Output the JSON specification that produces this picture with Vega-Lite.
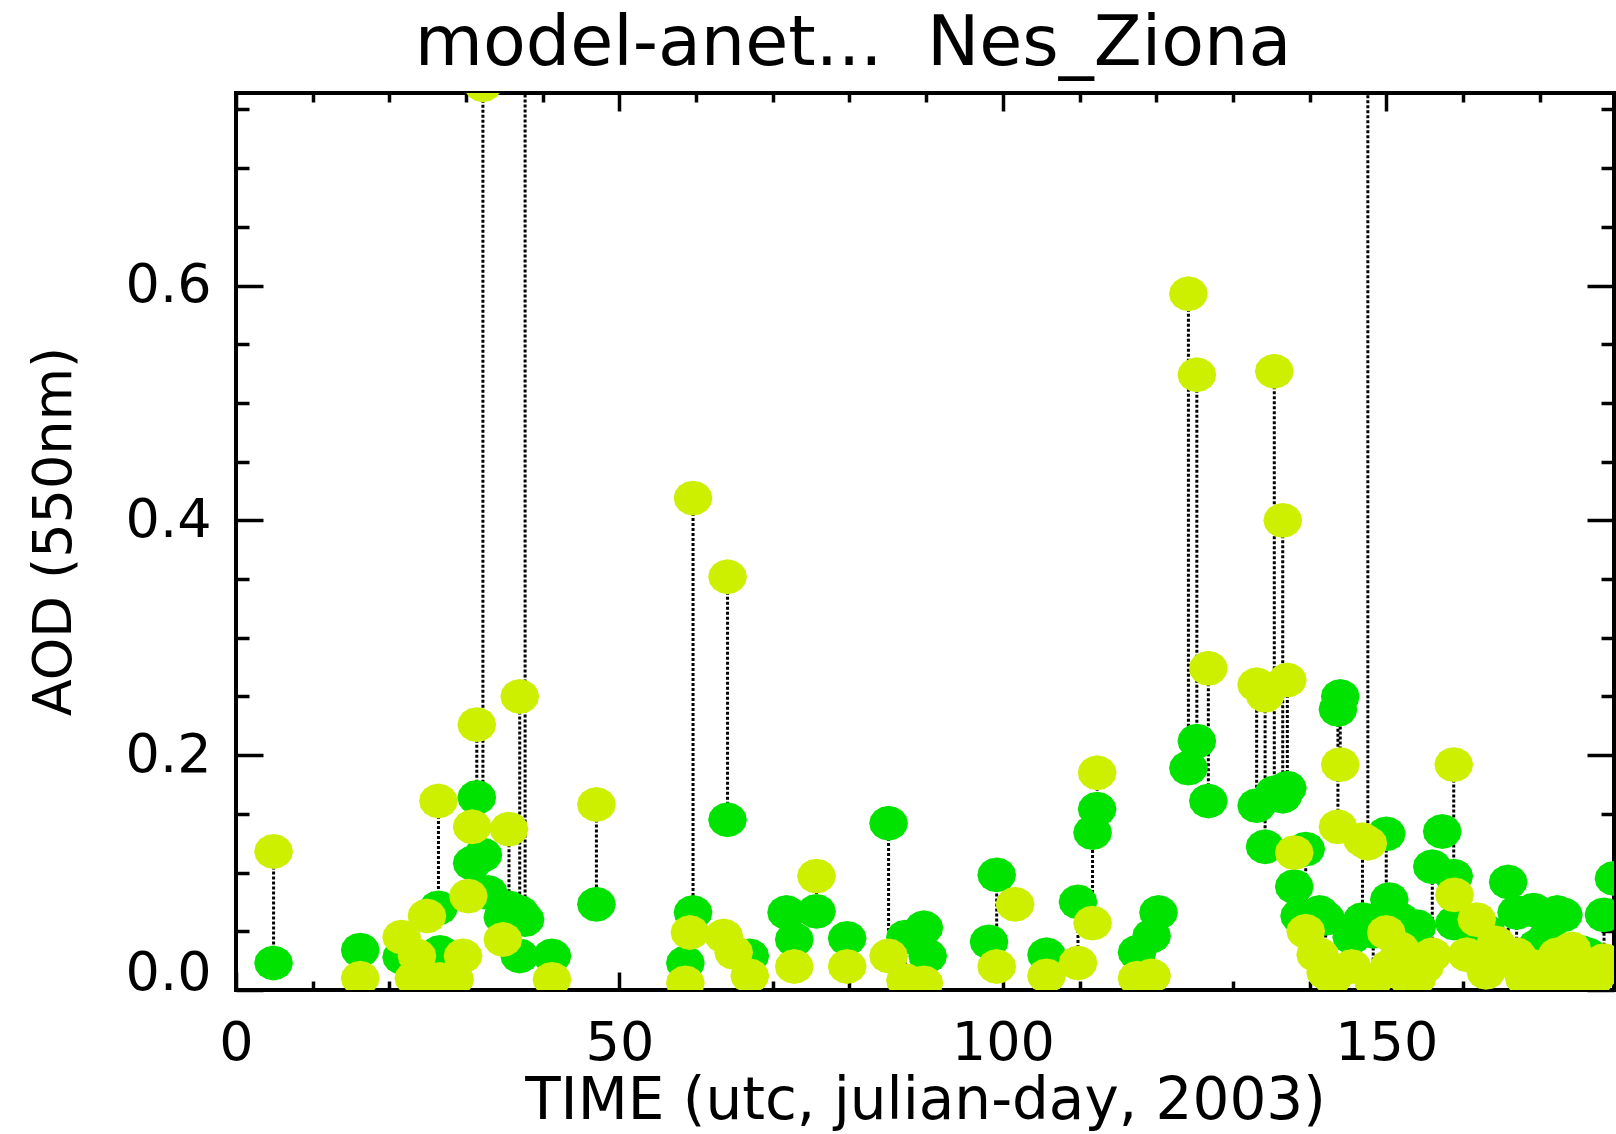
{
  "$schema": "https://vega.github.io/schema/vega-lite/v6.json",
  "width": 1378,
  "height": 897,
  "autosize": {"type": "none"},
  "padding": {"left": 236, "top": 93, "right": 2, "bottom": 144},
  "background": "white",
  "title": {
    "text": "model-anet...\u00a0 Nes_Ziona",
    "font": "DejaVu Sans",
    "fontSize": 70,
    "fontWeight": "normal",
    "color": "black",
    "anchor": "middle",
    "dx": -72,
    "dy": 70,
    "offset": 26,
    "baseline": "alphabetic"
  },
  "config": {
    "view": {"stroke": "black", "strokeWidth": 4},
    "axis": {
      "grid": false,
      "domain": false,
      "labelFont": "DejaVu Sans",
      "labelFontSize": 54,
      "labelColor": "black",
      "titleFont": "DejaVu Sans",
      "titleFontWeight": "normal",
      "titleColor": "black",
      "tickColor": "black",
      "tickWidth": 3.5
    }
  },
  "data": {
    "values": [
      {"d": 4.9, "model": 0.118, "anet": 0.023},
      {"d": 16.2, "model": 0.010, "anet": 0.034},
      {"d": 21.6, "model": 0.045, "anet": 0.028},
      {"d": 23.2, "model": 0.010, "anet": null},
      {"d": 23.6, "model": 0.029, "anet": null},
      {"d": 24.9, "model": 0.063, "anet": null},
      {"d": 26.4, "model": 0.161, "anet": 0.070},
      {"d": 26.6, "model": 0.009, "anet": 0.032},
      {"d": 28.5, "model": 0.009, "anet": null},
      {"d": 29.6, "model": 0.029, "anet": null},
      {"d": 30.3, "model": 0.080, "anet": null},
      {"d": 30.8, "model": 0.139, "anet": 0.108},
      {"d": 31.4, "model": 0.226, "anet": 0.164},
      {"d": 32.2, "model": 0.771, "anet": 0.115},
      {"d": 32.9, "model": null, "anet": 0.083},
      {"d": 34.8, "model": 0.043, "anet": 0.062},
      {"d": 35.6, "model": 0.137, "anet": 0.070},
      {"d": 37.0, "model": 0.250, "anet": 0.066},
      {"d": 37.7, "model": 0.950, "anet": 0.060},
      {"d": 37.0, "model": null, "anet": 0.029},
      {"d": 41.2, "model": 0.009, "anet": 0.029},
      {"d": 47.0, "model": 0.158, "anet": 0.073},
      {"d": 58.6, "model": 0.006, "anet": 0.023},
      {"d": 59.2, "model": 0.049, "anet": null},
      {"d": 59.6, "model": 0.419, "anet": 0.066},
      {"d": 63.6, "model": 0.046, "anet": null},
      {"d": 64.1, "model": 0.352, "anet": 0.145},
      {"d": 64.9, "model": 0.032, "anet": null},
      {"d": 67.0, "model": 0.012, "anet": 0.029},
      {"d": 71.8, "model": null, "anet": 0.066},
      {"d": 72.8, "model": 0.020, "anet": 0.043},
      {"d": 75.7, "model": 0.097, "anet": 0.067},
      {"d": 79.7, "model": 0.020, "anet": 0.044},
      {"d": 85.1, "model": 0.029, "anet": 0.142},
      {"d": 87.3, "model": 0.008, "anet": 0.045},
      {"d": 89.7, "model": 0.006, "anet": 0.053},
      {"d": 90.2, "model": null, "anet": 0.029},
      {"d": 98.2, "model": null, "anet": 0.041},
      {"d": 99.2, "model": 0.020, "anet": 0.098},
      {"d": 101.6, "model": 0.073, "anet": null},
      {"d": 105.7, "model": 0.012, "anet": 0.030},
      {"d": 109.8, "model": 0.023, "anet": 0.075},
      {"d": 111.7, "model": 0.057, "anet": 0.134},
      {"d": 112.3, "model": 0.185, "anet": 0.154},
      {"d": 117.5, "model": 0.010, "anet": 0.032},
      {"d": 119.4, "model": 0.012, "anet": 0.046},
      {"d": 120.3, "model": null, "anet": 0.066},
      {"d": 124.2, "model": 0.593, "anet": 0.189},
      {"d": 125.3, "model": 0.524, "anet": 0.212},
      {"d": 126.8, "model": 0.274, "anet": 0.161},
      {"d": 133.1, "model": 0.260, "anet": 0.157},
      {"d": 134.2, "model": 0.251, "anet": 0.122},
      {"d": 135.4, "model": 0.527, "anet": 0.168},
      {"d": 136.5, "model": 0.400, "anet": 0.165},
      {"d": 137.1, "model": 0.264, "anet": 0.172},
      {"d": 138.0, "model": 0.117, "anet": 0.088},
      {"d": 138.7, "model": null, "anet": 0.063},
      {"d": 139.5, "model": 0.050, "anet": 0.120},
      {"d": 140.8, "model": 0.030, "anet": null},
      {"d": 141.3, "model": 0.030, "anet": 0.066},
      {"d": 142.1, "model": 0.015, "anet": 0.061},
      {"d": 143.0, "model": 0.010, "anet": null},
      {"d": 143.7, "model": 0.139, "anet": 0.239},
      {"d": 144.0, "model": 0.192, "anet": 0.250},
      {"d": 145.5, "model": 0.020, "anet": 0.045},
      {"d": 146.9, "model": 0.128, "anet": 0.060},
      {"d": 147.6, "model": 0.125, "anet": 0.950},
      {"d": 148.3, "model": 0.008, "anet": 0.050},
      {"d": 150.0, "model": 0.049, "anet": 0.133},
      {"d": 150.4, "model": 0.020, "anet": 0.077},
      {"d": 151.8, "model": 0.035, "anet": 0.060},
      {"d": 152.8, "model": 0.010, "anet": null},
      {"d": 153.8, "model": null, "anet": 0.032},
      {"d": 154.0, "model": 0.010, "anet": 0.054},
      {"d": 155.0, "model": 0.020, "anet": null},
      {"d": 156.0, "model": 0.030, "anet": 0.105},
      {"d": 157.3, "model": null, "anet": 0.135},
      {"d": 158.8, "model": 0.192, "anet": 0.097},
      {"d": 158.9, "model": 0.081, "anet": 0.057},
      {"d": 160.5, "model": 0.030, "anet": null},
      {"d": 161.8, "model": 0.060, "anet": 0.040},
      {"d": 163.0, "model": 0.015, "anet": 0.050},
      {"d": 164.3, "model": 0.040, "anet": null},
      {"d": 165.9, "model": 0.025, "anet": 0.092},
      {"d": 167.0, "model": 0.030, "anet": 0.066},
      {"d": 168.0, "model": 0.010, "anet": null},
      {"d": 169.2, "model": 0.020, "anet": 0.068},
      {"d": 169.6, "model": 0.015, "anet": 0.037},
      {"d": 171.0, "model": 0.005, "anet": 0.045},
      {"d": 172.3, "model": 0.030, "anet": 0.066},
      {"d": 173.1, "model": 0.010, "anet": 0.064},
      {"d": 174.2, "model": 0.035, "anet": null},
      {"d": 175.3, "model": 0.020, "anet": 0.032},
      {"d": 176.3, "model": 0.010, "anet": 0.030},
      {"d": 177.2, "model": 0.010, "anet": null},
      {"d": 178.4, "model": 0.025, "anet": 0.064},
      {"d": 179.7, "model": 0.020, "anet": 0.095}
    ]
  },
  "layer": [
    {
      "transform": [{"filter": "isValid(datum.model) && isValid(datum.anet)"}],
      "mark": {"type": "rule", "color": "black", "strokeWidth": 3, "strokeDash": [3, 2], "clip": true},
      "encoding": {
        "x": {
          "field": "d", "type": "quantitative",
          "scale": {"domain": [0, 179.7], "nice": false, "zero": false},
          "axis": {
            "orient": "bottom", "values": [0, 50, 100, 150], "format": "d",
            "ticks": false, "tickSize": 0, "labelPadding": 69, "labelBaseline": "alphabetic",
            "labelFlush": false,
            "title": "TIME (utc, julian-day, 2003)", "titleFontSize": 58,
            "titleY": 128, "titleBaseline": "alphabetic"
          }
        },
        "y": {
          "field": "model", "type": "quantitative",
          "scale": {"domain": [0, 0.764], "nice": false, "zero": false},
          "axis": {
            "orient": "left", "values": [0, 0.2, 0.4, 0.6], "format": ".1f",
            "ticks": false, "tickSize": 0, "labelPadding": 25, "labelFlush": true, "labelFlushOffset": 10,
            "title": "AOD (550nm)", "titleFontSize": 54, "titleAngle": -90,
            "titleX": -166, "titleY": 438, "titleBaseline": "alphabetic"
          }
        },
        "y2": {"field": "anet"}
      }
    },
    {
      "mark": {
        "type": "point", "filled": true, "opacity": 1, "strokeWidth": 0, "clip": true,
        "color": "#00e300", "size": 1500,
        "shape": "M1,0L0.924,0.345L0.707,0.636L0.383,0.831L0,0.9L-0.383,0.831L-0.707,0.636L-0.924,0.345L-1,0L-0.924,-0.345L-0.707,-0.636L-0.383,-0.831L0,-0.9L0.383,-0.831L0.707,-0.636L0.924,-0.345Z"
      },
      "encoding": {
        "x": {
          "field": "d", "type": "quantitative",
          "axis": {"orient": "bottom", "values": [0, 50, 100, 150], "labels": false, "tickSize": -18, "title": null}
        },
        "y": {
          "field": "anet", "type": "quantitative",
          "axis": {"orient": "left", "values": [0, 0.2, 0.4, 0.6], "labels": false, "tickSize": -27, "title": null}
        }
      }
    },
    {
      "mark": {
        "type": "point", "filled": true, "opacity": 1, "strokeWidth": 0, "clip": true,
        "color": "#ccf000", "size": 1500,
        "shape": "M1,0L0.924,0.345L0.707,0.636L0.383,0.831L0,0.9L-0.383,0.831L-0.707,0.636L-0.924,0.345L-1,0L-0.924,-0.345L-0.707,-0.636L-0.383,-0.831L0,-0.9L0.383,-0.831L0.707,-0.636L0.924,-0.345Z"
      },
      "encoding": {
        "x": {
          "field": "d", "type": "quantitative",
          "axis": {"orient": "bottom", "values": [10, 20, 30, 40, 60, 70, 80, 90, 110, 120, 130, 140, 160, 170], "labels": false, "tickSize": -9, "title": null}
        },
        "y": {
          "field": "model", "type": "quantitative",
          "axis": {"orient": "left", "values": [0.05, 0.1, 0.15, 0.25, 0.3, 0.35, 0.45, 0.5, 0.55, 0.65, 0.7, 0.75], "labels": false, "tickSize": -13, "title": null}
        }
      }
    },
    {
      "mark": {"type": "point", "opacity": 0, "clip": true},
      "encoding": {
        "x": {
          "field": "d", "type": "quantitative",
          "axis": {"orient": "top", "values": [0, 50, 100, 150], "labels": false, "tickSize": -18, "title": null}
        },
        "y": {
          "field": "anet", "type": "quantitative",
          "axis": {"orient": "right", "values": [0, 0.2, 0.4, 0.6], "labels": false, "tickSize": -27, "title": null}
        }
      }
    },
    {
      "mark": {"type": "point", "opacity": 0, "clip": true},
      "encoding": {
        "x": {
          "field": "d", "type": "quantitative",
          "axis": {"orient": "top", "values": [10, 20, 30, 40, 60, 70, 80, 90, 110, 120, 130, 140, 160, 170], "labels": false, "tickSize": -9, "title": null}
        },
        "y": {
          "field": "model", "type": "quantitative",
          "axis": {"orient": "right", "values": [0.05, 0.1, 0.15, 0.25, 0.3, 0.35, 0.45, 0.5, 0.55, 0.65, 0.7, 0.75], "labels": false, "tickSize": -13, "title": null}
        }
      }
    }
  ],
  "resolve": {"axis": {"x": "independent", "y": "independent"}}
}
